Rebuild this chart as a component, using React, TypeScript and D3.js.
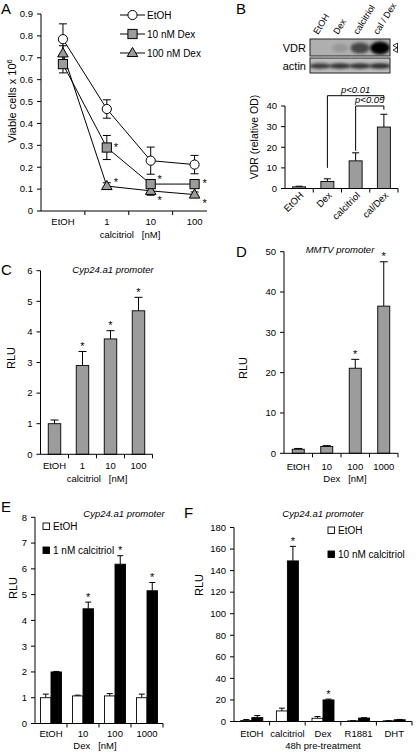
import React from "react";
import * as d3 from "d3";

const FONT = "'Liberation Sans', Arial, Helvetica, sans-serif";
const GRAY = "#9c9c9c";
const TICK_FS = 9.5;

// ---------- Panel A data ----------
const aCategories = ["EtOH", "1", "10", "100"];
const aSeriesNames = ["EtOH", "10 nM Dex", "100 nM Dex"];
const aEtOH = [0.785, 0.466, 0.23, 0.212];
const aEtOHErr = [0.07, 0.042, 0.062, 0.042];
const aDex10 = [0.671, 0.29, 0.123, 0.123];
const aDex10Err = [0.04, 0.055, 0.012, 0.012];
const aDex100 = [0.72, 0.114, 0.092, 0.075];
const aDex100Err = [0.035, 0.015, 0.02, 0.012];
const aYTicks = [0, 0.1, 0.2, 0.3, 0.4, 0.5, 0.6, 0.7, 0.8, 0.9];
const aStarsDex10 = [false, true, true, true];
const aStarsDex100 = [false, true, true, true];

// ---------- Panel B data ----------
const blotLanes = ["EtOH", "Dex", "calcitriol", "cal / Dex"];
const vdrIntensity = [0.42, 0.5, 0.78, 0.98];
const vdrBandWidth = [0.7, 0.8, 0.95, 1.0];
const actinIntensity = [0.82, 0.84, 0.84, 0.86];
const bCategories = ["EtOH", "Dex", "calcitriol", "cal/Dex"];
const bValues = [0.8, 3.4, 13.4, 29.8];
const bErrors = [0.3, 1.3, 3.9, 6.2];
const bYTicks = [0, 10, 20, 30, 40];
const bComparisons = [
  { from: "Dex", to: "cal/Dex", label: "p<0.01", level: 45, leftEnd: 10, rightEnd: 43 },
  { from: "calcitriol", to: "cal/Dex", label: "p<0.05", level: 40, leftEnd: 18.3, rightEnd: 38.2 },
];

// ---------- Panel C data ----------
const cCategories = ["EtOH", "1", "10", "100"];
const cValues = [1.0, 2.9, 3.77, 4.69];
const cErrors = [0.12, 0.46, 0.27, 0.44];
const cStars = [false, true, true, true];
const cYTicks = [0, 1, 2, 3, 4, 5, 6];

// ---------- Panel D data ----------
const dCategories = ["EtOH", "10", "100", "1000"];
const dValues = [1.0, 1.7, 21.1, 36.5];
const dErrors = [0.2, 0.2, 2.2, 11.0];
const dStars = [false, false, true, true];
const dYTicks = [0, 10, 20, 30, 40, 50];

// ---------- Panel E data ----------
const eCategories = ["EtOH", "10", "100", "1000"];
const eSeriesNames = ["EtOH", "1 nM calcitriol"];
const eEtOH = [1.0, 1.07, 1.07, 1.0];
const eEtOHErr = [0.14, 0.03, 0.09, 0.14];
const eCalcitriol = [2.0, 4.45, 6.18, 5.15];
const eCalcitriolErr = [0.02, 0.26, 0.33, 0.32];
const eStars = [false, true, true, true];
const eYTicks = [0, 1, 2, 3, 4, 5, 6, 7, 8];

// ---------- Panel F data ----------
const fCategories = ["EtOH", "calcitriol", "Dex", "R1881", "DHT"];
const fSeriesNames = ["EtOH", "10 nM calcitriol"];
const fEtOH = [1.0, 9.8, 3.0, 0.6, 0.6];
const fEtOHErr = [0.8, 2.6, 1.6, 0.2, 0.2];
const fCalcitriol = [3.6, 149, 20, 3.2, 1.6];
const fCalcitriolErr = [1.9, 13.5, 0.8, 0.3, 0.3];
const fStars = [false, true, true, false, false];
const fYTicks = [0, 20, 40, 60, 80, 100, 120, 140, 160, 180];

type Lin = d3.ScaleLinear<number, number>;
type Band = d3.ScaleBand<string>;

function YAxis({ x, scale, ticks, fmt = (d: number) => String(d) }: { x: number; scale: Lin; ticks: number[]; fmt?: (d: number) => string }) {
  const [r0, r1] = scale.range();
  return (
    <g>
      <line x1={x} x2={x} y1={r0} y2={r1} stroke="#000" strokeWidth={1} />
      {ticks.map((t) => (
        <g key={t}>
          <line x1={x - 4} x2={x} y1={scale(t)} y2={scale(t)} stroke="#000" />
          <text x={x - 8} y={scale(t)} dy="0.35em" textAnchor="end" fontSize={TICK_FS}>
            {fmt(t)}
          </text>
        </g>
      ))}
    </g>
  );
}

function XAxis({ band, y, x1, labels = true, labelY }: { band: Band; y: number; x1?: number; labels?: boolean; labelY?: number }) {
  const [r0, r1] = band.range();
  const end = x1 ?? r1;
  const step = band.step();
  const bounds = band.domain().map((c) => (band(c) as number) + step).filter((b) => b <= end + 0.5);
  return (
    <g>
      <line x1={r0} x2={end} y1={y} y2={y} stroke="#000" />
      {bounds.map((b, i) => (
        <line key={i} x1={b} x2={b} y1={y} y2={y + 4} stroke="#000" />
      ))}
      {labels &&
        band.domain().map((c) => (
          <text key={c} x={(band(c) as number) + step / 2} y={labelY} textAnchor="middle" fontSize={TICK_FS}>
            {c}
          </text>
        ))}
    </g>
  );
}

function Bar({ cx, w, y, v, e, fill, cap = 8, star = false }: { cx: number; w: number; y: Lin; v: number; e: number; fill: string; cap?: number; star?: boolean }) {
  const top = y(v);
  const et = y(v + e);
  const base = y(0);
  return (
    <g>
      <line x1={cx} x2={cx} y1={top} y2={et} stroke="#000" />
      <line x1={cx - cap / 2} x2={cx + cap / 2} y1={et} y2={et} stroke="#000" />
      <rect x={cx - w / 2} y={top} width={w} height={base - top} fill={fill} stroke="#000" strokeWidth={0.9} />
      {star && (
        <text x={cx} y={et - 1.5} textAnchor="middle" fontSize={11}>
          *
        </text>
      )}
    </g>
  );
}

function Star({ x, y }: { x: number; y: number }) {
  return (
    <text x={x} y={y + 3.5} textAnchor="middle" fontSize={11}>
      *
    </text>
  );
}

function Marker({ kind, x, y }: { kind: number; x: number; y: number }) {
  if (kind === 0) return <circle cx={x} cy={y} r={4.6} fill="#fff" stroke="#000" strokeWidth={1} />;
  if (kind === 1) return <rect x={x - 4.6} y={y - 4.6} width={9.2} height={9.2} fill={GRAY} stroke="#000" strokeWidth={1} />;
  const p = d3.symbol().type(d3.symbolTriangle).size(48)() as string;
  return <path d={p} transform={`translate(${x},${y + 0.5})`} fill={GRAY} stroke="#000" strokeWidth={1} />;
}

function PanelA() {
  const y = d3.scaleLinear([0, 0.9], [211, 14]);
  const x = d3.scaleBand(aCategories, [41, 216.5]);
  const cx = (c: string) => (x(c) as number) + x.step() / 2;
  const series = [
    { v: aEtOH, e: aEtOHErr, stars: null as boolean[] | null },
    { v: aDex10, e: aDex10Err, stars: aStarsDex10 },
    { v: aDex100, e: aDex100Err, stars: aStarsDex100 },
  ];
  const line = d3
    .line<number>()
    .x((_, i) => cx(aCategories[i]))
    .y((d) => y(d));
  const starOffsets = [
    null,
    [null, [9, 0], [9, -5], [10, -1]],
    [null, [9, -4], [9, 10], [10, 9]],
  ] as any;
  const fmt = (d: number) => (d === 0 ? "0" : d3.format(".1f")(d));
  return (
    <g>
      <text x={1} y={14} fontSize={15}>A</text>
      <YAxis x={41} scale={y} ticks={aYTicks} fmt={fmt} />
      <XAxis band={x} y={211} x1={207} labelY={225} />
      <text x={130} y={238} textAnchor="middle" fontSize={TICK_FS} xmlSpace="preserve">
        {"calcitriol   [nM]"}
      </text>
      <text transform="translate(16,101) rotate(-90)" textAnchor="middle" fontSize={11}>
        Viable cells x 10
        <tspan fontSize={7.5} dy={-4}>6</tspan>
      </text>
      {series.map((s, si) => (
        <path key={si} d={line(s.v) as string} fill="none" stroke="#000" strokeWidth={1} />
      ))}
      {series.map((s, si) =>
        s.v.map((v, i) => {
          const X = cx(aCategories[i]);
          const y1 = y(v - s.e[i]);
          const y2 = y(v + s.e[i]);
          return (
            <g key={`${si}-${i}`}>
              <line x1={X} x2={X} y1={y1} y2={y2} stroke="#000" />
              <line x1={X - 4} x2={X + 4} y1={y1} y2={y1} stroke="#000" />
              <line x1={X - 4} x2={X + 4} y1={y2} y2={y2} stroke="#000" />
            </g>
          );
        })
      )}
      {[2, 1, 0].map((si) =>
        series[si].v.map((v, i) => <Marker key={`${si}-${i}`} kind={si} x={cx(aCategories[i])} y={y(v)} />)
      )}
      {series.map((s, si) =>
        s.stars
          ? s.stars.map((st, i) =>
              st ? <Star key={`${si}-${i}`} x={cx(aCategories[i]) + starOffsets[si][i][0]} y={y(s.v[i]) + starOffsets[si][i][1]} /> : null
            )
          : null
      )}
      {aSeriesNames.map((n, i) => {
        const ly = 15 + i * 19;
        return (
          <g key={n}>
            <line x1={120} x2={145} y1={ly} y2={ly} stroke="#000" />
            <Marker kind={i} x={132.5} y={ly} />
            <text x={147} y={ly} dy="0.35em" fontSize={10}>
              {n}
            </text>
          </g>
        );
      })}
    </g>
  );
}

function PanelB() {
  const lane = d3.scaleBand(blotLanes, [310, 390]);
  const lw = lane.bandwidth();
  const y = d3.scaleLinear([0, 40], [188.5, 106]);
  const x = d3.scaleBand(bCategories, [285, 398]);
  const cx = (c: string) => (x(c) as number) + x.step() / 2;
  const grey = d3.interpolateGreys;
  return (
    <g>
      <text x={236} y={14} fontSize={15}>B</text>
      <defs>
        <filter id="blotBlur" x="-50%" y="-50%" width="200%" height="200%">
          <feGaussianBlur stdDeviation={1.6} />
        </filter>
        <clipPath id="vdrClip">
          <rect x={310} y={39} width={80} height={17} />
        </clipPath>
        <clipPath id="actinClip">
          <rect x={310} y={58} width={80} height={15} />
        </clipPath>
      </defs>
      {blotLanes.map((l) => (
        <text key={l} transform={`translate(${(lane(l) as number) + lw / 2 - 2},35) rotate(-58)`} fontSize={9}>
          {l}
        </text>
      ))}
      <rect x={310} y={39} width={80} height={17} fill="#b0b0b0" />
      <g clipPath="url(#vdrClip)">
        {blotLanes.map((l, i) => (
          <ellipse
            key={l}
            cx={(lane(l) as number) + lw / 2}
            cy={48}
            rx={(lw / 2) * vdrBandWidth[i]}
            ry={2.5 + vdrIntensity[i] * 4}
            fill={grey(vdrIntensity[i])}
            filter="url(#blotBlur)"
          />
        ))}
      </g>
      <rect x={310} y={39} width={80} height={17} fill="none" stroke="#222" />
      <rect x={310} y={58} width={80} height={15} fill="#bdbdbd" />
      <g clipPath="url(#actinClip)">
        {blotLanes.map((l, i) => (
          <ellipse key={l} cx={(lane(l) as number) + lw / 2} cy={66} rx={lw / 2 + 1} ry={2.8} fill={grey(actinIntensity[i])} filter="url(#blotBlur)" />
        ))}
      </g>
      <rect x={310} y={58} width={80} height={15} fill="none" stroke="#222" />
      <text x={306} y={48} dy="0.35em" textAnchor="end" fontSize={11}>VDR</text>
      <text x={306} y={66} dy="0.35em" textAnchor="end" fontSize={11}>actin</text>
      <path d="M393,45.5 l4.5,-2.5 v5 z M393,50 l4.5,-2.5 v5 z" fill="none" stroke="#000" strokeWidth={0.8} />

      <YAxis x={285} scale={y} ticks={bYTicks} />
      <XAxis band={x} y={188.5} labels={false} />
      {bCategories.map((c) => (
        <text key={c} transform={`translate(${cx(c) + 5},196) rotate(-45)`} textAnchor="end" fontSize={9.5}>
          {c}
        </text>
      ))}
      {bCategories.map((c, i) => (
        <Bar key={c} cx={cx(c)} w={13} y={y} v={bValues[i]} e={bErrors[i]} fill={GRAY} cap={7} />
      ))}
      <text transform="translate(258,137) rotate(-90)" textAnchor="middle" fontSize={10.5}>
        VDR (relative OD)
      </text>
      {bComparisons.map((b) => {
        const x1 = cx(b.from);
        const x2 = cx(b.to);
        const yl = y(b.level);
        return (
          <g key={b.label}>
            <path d={`M${x1},${y(b.leftEnd)} V${yl} H${x2} V${y(b.rightEnd)}`} fill="none" stroke="#000" />
            <text x={(x1 + x2) / 2} y={yl - 3} textAnchor="middle" fontSize={9.5} fontStyle="italic">
              {b.label}
            </text>
          </g>
        );
      })}
    </g>
  );
}

function PanelC() {
  const y = d3.scaleLinear([0, 6], [454.3, 270.7]);
  const x = d3.scaleBand(cCategories, [40.5, 152.5]);
  const cx = (c: string) => (x(c) as number) + x.step() / 2;
  return (
    <g>
      <text x={1} y={275} fontSize={15}>C</text>
      <text x={113} y={273} textAnchor="middle" fontSize={9.5} fontStyle="italic">Cyp24.a1 promoter</text>
      <YAxis x={40.5} scale={y} ticks={cYTicks} />
      {cCategories.map((c, i) => (
        <Bar key={c} cx={cx(c)} w={12.5} y={y} v={cValues[i]} e={cErrors[i]} fill={GRAY} cap={8} star={cStars[i]} />
      ))}
      <XAxis band={x} y={454.3} labelY={469} />
      <text x={97} y={482} textAnchor="middle" fontSize={TICK_FS} xmlSpace="preserve">{"calcitriol   [nM]"}</text>
      <text transform="translate(15,358) rotate(-90)" textAnchor="middle" fontSize={11}>RLU</text>
    </g>
  );
}

function PanelD() {
  const y = d3.scaleLinear([0, 50], [453.3, 251.7]);
  const x = d3.scaleBand(dCategories, [284, 398]);
  const cx = (c: string) => (x(c) as number) + x.step() / 2;
  return (
    <g>
      <text x={236} y={257} fontSize={15}>D</text>
      <text x={340} y={253} textAnchor="middle" fontSize={9.5} fontStyle="italic">MMTV promoter</text>
      <YAxis x={284} scale={y} ticks={dYTicks} />
      {dCategories.map((c, i) => (
        <Bar key={c} cx={cx(c)} w={12} y={y} v={dValues[i]} e={dErrors[i]} fill={GRAY} cap={8} star={dStars[i]} />
      ))}
      <XAxis band={x} y={453.3} labelY={470} />
      <text x={345} y={482} textAnchor="middle" fontSize={TICK_FS} xmlSpace="preserve">{"Dex   [nM]"}</text>
      <text transform="translate(247,368) rotate(-90)" textAnchor="middle" fontSize={11}>RLU</text>
    </g>
  );
}

function GroupedPanel({
  letter, letterX, letterY, title, titleX, titleY, cats, y, x, yTicks, white, whiteErr, black, blackErr, stars, names, legendX, legendY, bw, cap, axisX, labelY, axisTitle, axisTitleX, rluX, rluY,
}: any) {
  const cx = (c: string) => (x(c) as number) + x.step() / 2;
  return (
    <g>
      <text x={letterX} y={letterY} fontSize={15}>{letter}</text>
      <text x={titleX} y={titleY} textAnchor="middle" fontSize={9.5} fontStyle="italic">{title}</text>
      <YAxis x={axisX} scale={y} ticks={yTicks} />
      {cats.map((c: string, i: number) => (
        <g key={c}>
          <Bar cx={cx(c) - bw / 2} w={bw} y={y} v={white[i]} e={whiteErr[i]} fill="#fff" cap={cap} />
          <Bar cx={cx(c) + bw / 2} w={bw} y={y} v={black[i]} e={blackErr[i]} fill="#000" cap={cap} star={stars[i]} />
        </g>
      ))}
      <XAxis band={x} y={y(0)} labelY={labelY} />
      {axisTitle && (
        <text x={axisTitleX} y={labelY + 12} textAnchor="middle" fontSize={TICK_FS} xmlSpace="preserve">{axisTitle}</text>
      )}
      <text transform={`translate(${rluX},${rluY}) rotate(-90)`} textAnchor="middle" fontSize={11}>RLU</text>
      {names.map((n: string, i: number) => (
        <g key={n}>
          <rect x={legendX} y={legendY + i * 24 - 3} width={6.5} height={6.5} fill={i === 0 ? "#fff" : "#000"} stroke="#000" strokeWidth={0.9} />
          <text x={legendX + 10} y={legendY + i * 24} dy="0.35em" fontSize={10}>{n}</text>
        </g>
      ))}
    </g>
  );
}

function PanelE() {
  const y = d3.scaleLinear([0, 8], [723.5, 517.3]);
  const x = d3.scaleBand(eCategories, [35, 163]);
  return (
    <GroupedPanel
      letter="E" letterX={1} letterY={512} title="Cyp24.a1 promoter" titleX={124} titleY={517}
      cats={eCategories} y={y} x={x} yTicks={eYTicks}
      white={eEtOH} whiteErr={eEtOHErr} black={eCalcitriol} blackErr={eCalcitriolErr} stars={eStars}
      names={eSeriesNames} legendX={43} legendY={526} bw={10.5} cap={6} axisX={35} labelY={737}
      axisTitle={"Dex   [nM]"} axisTitleX={95} rluX={17} rluY={588}
    />
  );
}

function PanelF() {
  const y = d3.scaleLinear([0, 180], [721.5, 527.5]);
  const x = d3.scaleBand(fCategories, [234, 412]);
  return (
    <GroupedPanel
      letter="F" letterX={184} letterY={518} title="Cyp24.a1 promoter" titleX={323} titleY={517}
      cats={fCategories} y={y} x={x} yTicks={fYTicks}
      white={fEtOH} whiteErr={fEtOHErr} black={fCalcitriol} blackErr={fCalcitriolErr} stars={fStars}
      names={fSeriesNames} legendX={328} legendY={530} bw={11} cap={6} axisX={234} labelY={737}
      axisTitle={"48h pre-treatment"} axisTitleX={323} rluX={203} rluY={585}
    />
  );
}

export default function App() {
  return (
    <div style={{ position: "absolute", left: 0, top: 0, width: 416, height: 753, background: "#fff" }}>
      <svg width={416} height={753} style={{ display: "block" }} fontFamily={FONT}>
        <rect width={416} height={753} fill="#fff" />
        <PanelA />
        <PanelB />
        <PanelC />
        <PanelD />
        <PanelE />
        <PanelF />
      </svg>
    </div>
  );
}
